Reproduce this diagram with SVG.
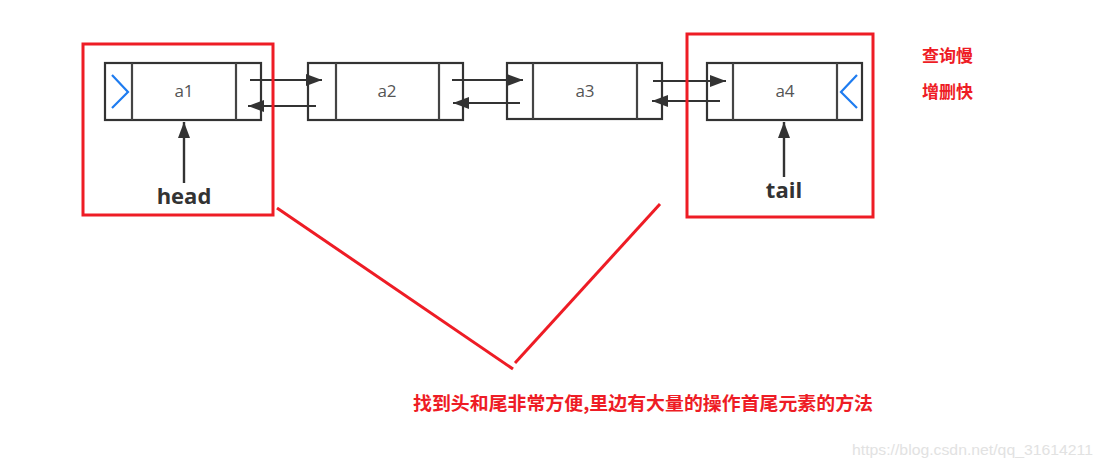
<svg xmlns="http://www.w3.org/2000/svg" width="1102" height="469" viewBox="0 0 1102 469">
<defs>
<marker id="ah" viewBox="0 0 16 12" refX="16" refY="6" markerWidth="16" markerHeight="12" markerUnits="userSpaceOnUse" orient="auto">
<path d="M0,0 L16,6 L0,12 z" fill="#333"/>
</marker>
</defs>
<style>
.box{fill:#fff;stroke:#333;stroke-width:2.2}
.div{stroke:#444;stroke-width:2.2}
.lbl{font-family:"Open Sans","Noto Sans",sans-serif;font-size:17px;fill:#555;text-anchor:middle}
.chev{fill:none;stroke:#1e7cf0;stroke-width:2.2}
.link{stroke:#333;stroke-width:2;fill:none;marker-end:url(#ah)}
.ptr{stroke:#333;stroke-width:2.4;fill:none;marker-end:url(#ah)}
.ptrlbl{font-family:"Open Sans","Noto Sans",sans-serif;font-size:22px;font-weight:bold;fill:#333;text-anchor:middle}
.red{fill:none;stroke:#ee1c25;stroke-width:3}
.note{font-family:"Noto Sans CJK SC","Noto Sans",sans-serif;font-weight:bold;fill:#ee1c25}
</style>
<rect width="1102" height="469" fill="#fff"/>

<g id="node-a1">
<rect class="box" x="105" y="63" width="156" height="57"/>
<line class="div" x1="132" y1="63" x2="132" y2="120"/>
<line class="div" x1="236" y1="63" x2="236" y2="120"/>
<polyline class="chev" points="112,75 128,92 112,108"/>
<text class="lbl" x="184" y="97">a1</text>
</g>
<g id="node-a2">
<rect class="box" x="308" y="63" width="155" height="57"/>
<line class="div" x1="336" y1="63" x2="336" y2="120"/>
<line class="div" x1="439" y1="63" x2="439" y2="120"/>
<text class="lbl" x="387" y="97">a2</text>
</g>
<g id="node-a3">
<rect class="box" x="507" y="63" width="155" height="56"/>
<line class="div" x1="533" y1="63" x2="533" y2="119"/>
<line class="div" x1="637" y1="63" x2="637" y2="119"/>
<text class="lbl" x="585" y="97">a3</text>
</g>
<g id="node-a4">
<rect class="box" x="707" y="63" width="155" height="57"/>
<line class="div" x1="733" y1="63" x2="733" y2="120"/>
<line class="div" x1="837" y1="63" x2="837" y2="120"/>
<polyline class="chev" points="857,75 841,92 857,108"/>
<text class="lbl" x="785" y="97">a4</text>
</g>

<g id="head">
<text class="ptrlbl" x="184" y="204">head</text>
</g>
<g id="tail">
<text class="ptrlbl" x="784" y="198">tail</text>
</g>

<g id="connectors">
<line class="link" x1="250" y1="80" x2="322" y2="80"/>
<line class="link" x1="316" y1="106" x2="248" y2="106"/>
<line class="link" x1="452" y1="80" x2="523" y2="80"/>
<line class="link" x1="520" y1="103" x2="453" y2="103"/>
<line class="link" x1="653" y1="81" x2="726" y2="81"/>
<line class="link" x1="720" y1="101" x2="652" y2="101"/>
<line class="ptr" x1="184" y1="183" x2="184" y2="122"/>
<line class="ptr" x1="784" y1="177" x2="784" y2="122"/>
</g>

<g id="annotations">
<rect class="red" x="83" y="44" width="190" height="171"/>
<rect class="red" x="687" y="34" width="186" height="183"/>
<line class="red" x1="277" y1="208" x2="513" y2="369"/>
<line class="red" x1="515" y1="363" x2="660" y2="204"/>
<text class="note" x="922" y="62" font-size="17">查询慢</text>
<text class="note" x="922" y="98" font-size="17">增删快</text>
<text class="note" x="413" y="410" font-size="18.5" textLength="460" lengthAdjust="spacingAndGlyphs">找到头和尾非常方便,里边有大量的操作首尾元素的方法</text>
<text x="852" y="455" font-family="Liberation Sans,Arial,sans-serif" font-size="15" fill="#e2e2e2" textLength="241" lengthAdjust="spacingAndGlyphs">https://blog.csdn.net/qq_31614211</text>
</g>
</svg>
